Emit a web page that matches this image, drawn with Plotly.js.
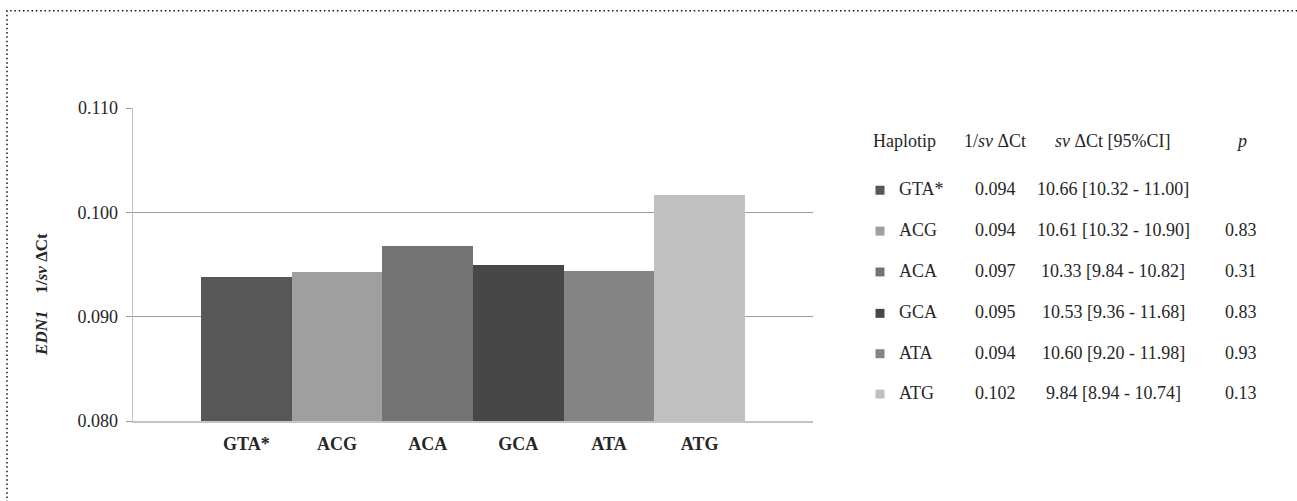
<!DOCTYPE html>
<html>
<head>
<meta charset="utf-8">
<script src="https://cdn.plot.ly/plotly-3.0.1.min.js"></script>
<style>
  html, body { margin: 0; padding: 0; background: #fff; }
  #chart { width: 1297px; height: 501px; }
</style>
</head>
<body>
<div id="chart"></div>
<script>
// Haplotypes of EDN1 and their expression summary
const haplotypes = ['GTA*', 'ACG', 'ACA', 'GCA', 'ATA', 'ATG'];
const svCt   = [10.66, 10.61, 10.33, 10.53, 10.60, 9.84];   // mean sv ΔCt
const ciLow  = [10.32, 10.32, 9.84, 9.36, 9.20, 8.94];     // 95% CI lower
const ciHigh = [11.00, 10.90, 10.82, 11.68, 11.98, 10.74]; // 95% CI upper
const pVals  = [null, 0.83, 0.31, 0.83, 0.93, 0.13];
const barColors = ['#575757', '#9f9f9f', '#737373', '#474747', '#848484', '#c0c0c0'];
const yTicks = [0.080, 0.090, 0.100, 0.110];

// Bar heights are the reciprocal of sv ΔCt (1/sv ΔCt)
const invSv = svCt.map(v => 1 / v);
const positions = haplotypes.map((_, i) => i);

// Plot-area geometry in pixels, used to place the side table
const FIG_W = 1297, FIG_H = 501;
const PL = 133, PR = 813, PT = 107.5, PB = 421.5;
const px = p => (p - PL) / (PR - PL);
const py = p => (PB - p) / (PB - PT);

const SERIF = 'Liberation Serif, Times New Roman, serif';
const TXT = '#262626';
const FS = 18;

const traces = [{
  type: 'bar',
  x: positions,
  y: invSv,
  width: 1,
  marker: { color: barColors, line: { width: 0 } },
  hoverinfo: 'skip',
  showlegend: false
}];

const annotations = [];
const shapes = [];

// Rotated axis caption
annotations.push({
  xref: 'paper', yref: 'paper', x: px(42), y: py(295),
  text: '<b><i>EDN1</i>\u00a0\u00a0\u00a0\u00a01/<i>sv</i> ΔCt</b>',
  textangle: -90, showarrow: false,
  xanchor: 'center', yanchor: 'middle',
  font: { family: SERIF, size: 17, color: TXT }
});

// Table header
const headerY = 141;
const colName = 871, colInv = 995, colSv = 1113, colP = 1241, colSq = 880, colHap = 897;
const header = [
  { x: colName, text: 'Haplotip', anchor: 'left' },
  { x: colInv, text: '1/<i>sv</i> ΔCt', anchor: 'center' },
  { x: colSv, text: '<i>sv</i> ΔCt [95%CI]', anchor: 'center' },
  { x: colP, text: '<i>p</i>', anchor: 'center' }
];
header.forEach(h => annotations.push({
  xref: 'paper', yref: 'paper', x: px(h.x), y: py(headerY),
  text: h.text, showarrow: false, xanchor: h.anchor, yanchor: 'middle',
  font: { family: SERIF, size: FS, color: TXT }
}));

// Table rows
const rowY = [189, 230, 271, 312.5, 353, 393.5];
haplotypes.forEach((h, i) => {
  const y = rowY[i];
  const sq = 4.5;
  shapes.push({
    type: 'rect', xref: 'paper', yref: 'paper',
    x0: px(colSq - sq), x1: px(colSq + sq),
    y0: py(y + 1 + sq), y1: py(y + 1 - sq),
    fillcolor: barColors[i], line: { width: 0 }
  });
  const cells = [
    { x: colHap, text: h, anchor: 'left' },
    { x: colInv, text: invSv[i].toFixed(3), anchor: 'center' },
    { x: colSv, text: svCt[i].toFixed(2) + ' [' + ciLow[i].toFixed(2) + ' - ' + ciHigh[i].toFixed(2) + ']', anchor: 'center' }
  ];
  if (pVals[i] !== null) cells.push({ x: colP, text: pVals[i].toFixed(2), anchor: 'center' });
  cells.forEach(c => annotations.push({
    xref: 'paper', yref: 'paper', x: px(c.x), y: py(y),
    text: c.text, showarrow: false, xanchor: c.anchor, yanchor: 'middle',
    font: { family: SERIF, size: FS, color: TXT }
  }));
});

// Dotted frame along the top and left edges
shapes.push({
  type: 'path', xref: 'paper', yref: 'paper',
  path: 'M ' + px(7) + ',' + py(FIG_H + 2) + ' L ' + px(7) + ',' + py(10) + ' L ' + px(FIG_W + 2) + ',' + py(10),
  line: { color: '#111', width: 1.5, dash: '1.5px,2.8px' }
});

const layout = {
  width: FIG_W, height: FIG_H,
  margin: { l: PL, r: FIG_W - PR, t: PT, b: FIG_H - PB, pad: 0 },
  paper_bgcolor: '#fff', plot_bgcolor: '#fff',
  bargap: 0,
  font: { family: SERIF, color: TXT },
  xaxis: {
    range: [-1.25, positions.length + 0.25],
    tickvals: positions, ticktext: haplotypes,
    ticks: '', showgrid: false, zeroline: false,
    showline: true, linecolor: '#c4c4c4', linewidth: 1.5,
    ticklabelstandoff: 6,
    tickfont: { family: SERIF, size: FS, color: TXT, weight: 'bold' },
    fixedrange: true
  },
  yaxis: {
    range: [0.08, 0.11],
    tickvals: yTicks, tickformat: '.3f',
    ticks: 'outside', ticklen: 6, tickcolor: '#9c9c9c', tickwidth: 1,
    showgrid: true, gridcolor: '#9c9c9c', gridwidth: 1,
    zeroline: false,
    showline: true, linecolor: '#c4c4c4', linewidth: 1.5,
    ticklabelstandoff: 4,
    tickfont: { family: SERIF, size: FS, color: TXT },
    fixedrange: true
  },
  annotations: annotations,
  shapes: shapes,
  showlegend: false
};

Plotly.newPlot('chart', traces, layout, { staticPlot: true, displayModeBar: false });
</script>
</body>
</html>
